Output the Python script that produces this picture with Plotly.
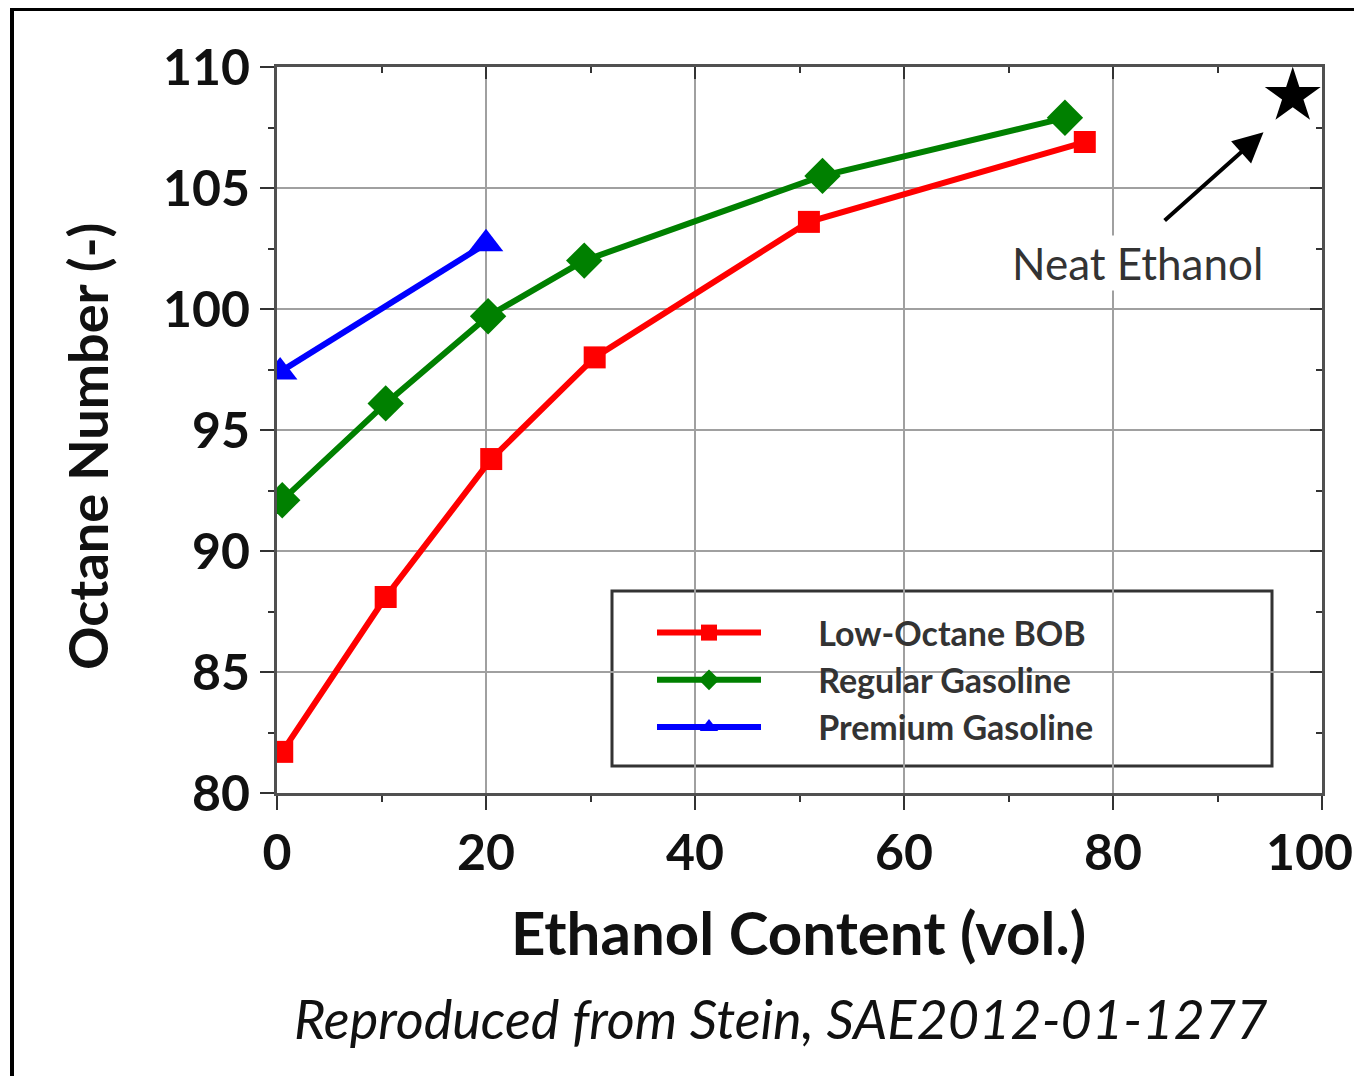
import plotly.graph_objects as go

# Data
low_x = [0.5, 10.4, 20.5, 30.4, 50.9, 77.3]
low_y = [81.7, 88.1, 93.8, 98.0, 103.6, 106.9]
reg_x = [0.5, 10.4, 20.2, 29.4, 52.2, 75.4]
reg_y = [92.1, 96.1, 99.7, 102.0, 105.5, 107.9]
prem_x = [0.3, 20.0]
prem_y = [97.4, 102.7]
neat_x = [97.2]
neat_y = [108.8]

x_ticks = [0, 20, 40, 60, 80, 100]
x_ticktext = ["0", "20", "40", "60", "80", ""]
last_x_label = "100"
y_ticks = [80, 85, 90, 95, 100, 105, 110]

FONT = "Lato"
AX = "#505050"

# page offset (body margin) compensation; keep the figure inside the window
O = 8
W, H = 1346, 1068
L, R, T, B = 277 - O, 1322 - O, 67 - O, 793 - O


def px(p):
    return (p - O - L) / (R - L)


def py(p):
    return (B - (p - O)) / (B - T)


NB = "&nbsp;" * 6

fig = go.Figure()
fig.add_trace(go.Scatter(x=low_x, y=low_y, mode="lines+markers", name=NB + "<b>Low-Octane BOB</b>",
                         line=dict(color="#ff0000", width=6),
                         marker=dict(symbol="square", size=22, color="#ff0000")))
fig.add_trace(go.Scatter(x=reg_x, y=reg_y, mode="lines+markers", name=NB + "<b>Regular Gasoline</b>",
                         line=dict(color="#008000", width=6),
                         marker=dict(symbol="diamond", size=28, color="#008000")))
fig.add_trace(go.Scatter(x=prem_x, y=prem_y, mode="lines+markers", name=NB + "<b>Premium Gasoline</b>",
                         line=dict(color="#0000ff", width=6),
                         marker=dict(symbol="triangle-up", size=30, color="#0000ff")))
fig.add_trace(go.Scatter(x=neat_x, y=neat_y, mode="markers", name="Neat Ethanol",
                         showlegend=False,
                         marker=dict(symbol="star", size=42, color="#000000")))

tick_common = dict(tickwidth=2, tickcolor="#333333", zeroline=False, automargin=False)
TICKFONT = dict(family=FONT, size=50, color="#111111", weight="bold")

fig.update_layout(
    width=W, height=H,
    margin=dict(l=L, r=W - R, t=T, b=H - B, pad=0, autoexpand=False),
    paper_bgcolor="white", plot_bgcolor="white",
    font=dict(family=FONT, color="#222222"),
    showlegend=True,
    legend=dict(x=px(652), y=py(604), xanchor="left", yanchor="top",
                bgcolor="rgba(0,0,0,0)", borderwidth=0,
                font=dict(family=FONT, size=34, color="#333333"),
                itemwidth=104, tracegroupgap=0),
    xaxis=dict(range=[0, 100], tickvals=x_ticks, ticktext=x_ticktext,
               ticks="outside", ticklen=14, **tick_common,
               showline=True, linecolor=AX, linewidth=3, mirror=True,
               showgrid=True, gridcolor="#a0a0a0", gridwidth=2,
               tickfont=TICKFONT,
               minor=dict(dtick=10, tick0=0, ticks="outside", ticklen=6, tickcolor="#333333", tickwidth=2, showgrid=False)),
    yaxis=dict(range=[80, 110], tickvals=y_ticks, ticktext=[str(v) for v in y_ticks],
               ticks="outside", ticklen=14, **tick_common,
               showline=True, linecolor=AX, linewidth=3, mirror=True,
               showgrid=True, gridcolor="#a0a0a0", gridwidth=2,
               tickfont=TICKFONT,
               minor=dict(dtick=2.5, tick0=80, ticks="outside", ticklen=6, tickcolor="#333333", tickwidth=2, showgrid=False)),
    xaxis2=dict(range=[0, 100], overlaying="x", side="top", tickvals=x_ticks, showticklabels=False,
                ticks="inside", ticklen=12, showgrid=False, **tick_common,
                minor=dict(dtick=10, tick0=0, ticks="inside", ticklen=6, tickcolor="#333333", tickwidth=2)),
    yaxis2=dict(range=[80, 110], overlaying="y", side="right", tickvals=y_ticks, showticklabels=False,
                ticks="inside", ticklen=12, showgrid=False, **tick_common,
                minor=dict(dtick=2.5, tick0=80, ticks="inside", ticklen=6, tickcolor="#333333", tickwidth=2)),
)

# invisible trace to anchor mirrored axes
fig.add_trace(go.Scatter(x=[None], y=[None], xaxis="x2", yaxis="y2", showlegend=False, hoverinfo="skip"))

# last x tick label, nudged left so it stays inside the page (as in the reference)
fig.add_annotation(xref="paper", yref="paper", x=px(1355), y=py(851), text=last_x_label,
                   showarrow=False, xanchor="right", yanchor="middle", font=TICKFONT)

# legend box
fig.add_shape(type="rect", xref="paper", yref="paper", x0=px(612), x1=px(1272), y0=py(766), y1=py(591),
              layer="between", fillcolor="white", line=dict(color="#333333", width=3))

# Axis titles and caption
fig.add_annotation(xref="paper", yref="paper", x=px(798), y=py(932),
                   text="<b>Ethanol Content (vol.)</b>", showarrow=False,
                   font=dict(family=FONT, size=60, color="#111111"), xanchor="center", yanchor="middle")
fig.add_annotation(xref="paper", yref="paper", x=px(88), y=py(447),
                   text="<b>Octane Number (-)</b>", showarrow=False, textangle=-90,
                   font=dict(family=FONT, size=54, color="#111111"), xanchor="center", yanchor="middle")
fig.add_annotation(xref="paper", yref="paper", x=px(780), y=py(1018),
                   text="<i>Reproduced from Stein, SAE2012-01-1277</i>", showarrow=False,
                   font=dict(family=FONT, size=54, color="#111111"), xanchor="center", yanchor="middle")

# Neat ethanol label and arrow
fig.add_annotation(x=82.3, y=101.9, text="Neat Ethanol", showarrow=False, bgcolor="white",
                   font=dict(family=FONT, size=44, color="#333333"))
fig.add_annotation(x=94.4, y=107.3, ax=84.8, ay=103.6, axref="x", ayref="y", text="",
                   showarrow=True, arrowhead=2, arrowsize=1.5, arrowwidth=4, arrowcolor="#000000")

# frame lines of the image (left and top border)
fig.add_shape(type="line", xref="paper", yref="paper", x0=px(12), x1=px(12),
              y0=py(1086), y1=py(9), line=dict(color="black", width=4))
fig.add_shape(type="line", xref="paper", yref="paper", x0=px(10), x1=px(1364),
              y0=py(9), y1=py(9), line=dict(color="black", width=4))

fig.write_html("out.html")
